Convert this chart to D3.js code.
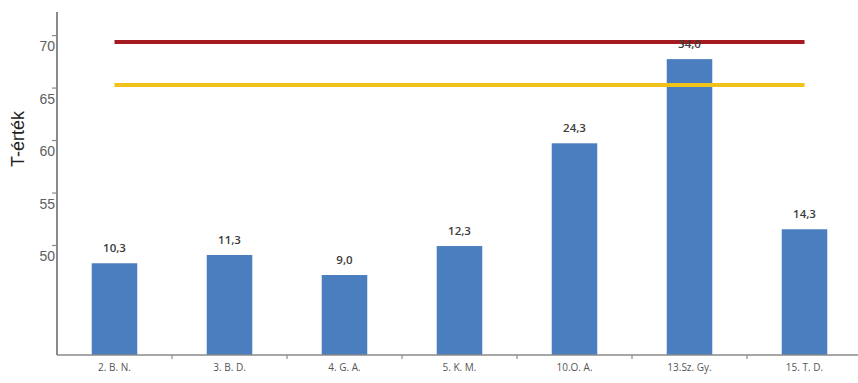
<!DOCTYPE html>
<html><head><meta charset="utf-8">
<script src="https://cdn.jsdelivr.net/npm/d3@7"></script>
<style>body{margin:0;background:#fff}svg{display:block}</style>
</head><body>
<svg id="c" width="858" height="383"></svg>
<script>
const categories = ["2. B. N.", "3. B. D.", "4. G. A.", "5. K. M.", "10.O. A.", "13.Sz. Gy.", "15. T. D."];
const tValues = [48.26, 49.05, 47.14, 49.9, 59.69, 67.71, 51.5];
const rawLabels = ["10,3", "11,3", "9,0", "12,3", "24,3", "34,0", "14,3"];
const yTicks = [50, 55, 60, 65, 70];
const redLine = 69.33;
const yellowLine = 65.24;

const svg = d3.select("#c");
const x0 = 57, x1 = 862, yBase = 355, yTop = 12;
const y = d3.scaleLinear().domain([39.52, 72.2]).range([yBase, yTop]);
const x = d3.scaleBand().domain(categories).range([x0, x1]).paddingInner(0.604).paddingOuter(0.302);

// bars
svg.append("g").selectAll("rect").data(tValues).join("rect")
  .attr("x", (d,i) => x(categories[i]))
  .attr("width", x.bandwidth())
  .attr("y", d => y(d))
  .attr("height", d => yBase - y(d))
  .attr("fill", "#4a7ebf");

// reference lines
const lx0 = x(categories[0]) + x.bandwidth()/2;
const lx1 = x(categories[categories.length-1]) + x.bandwidth()/2;
svg.append("line").attr("x1", lx0).attr("x2", lx1).attr("y1", y(yellowLine)).attr("y2", y(yellowLine))
  .attr("stroke", "#f0c21a").attr("stroke-width", 4);
svg.append("line").attr("x1", lx0).attr("x2", lx1).attr("y1", y(redLine)).attr("y2", y(redLine))
  .attr("stroke", "#a51a1f").attr("stroke-width", 4);

// value labels
svg.append("g").selectAll("text").data(tValues).join("text")
  .attr("x", (d,i) => x(categories[i]) + x.bandwidth()/2)
  .attr("y", d => y(d) - 11)
  .attr("text-anchor", "middle")
  .attr("font-family", "Open Sans, Arial, sans-serif")
  .attr("font-size", 11.5).attr("font-weight", 600)
  .attr("fill", "#3c3c3c")
  .text((d,i) => rawLabels[i]);

// y axis
const yAxis = d3.axisLeft(y).tickValues(yTicks).tickSize(5).tickFormat("");
const ga = svg.append("g").attr("transform", `translate(${x0},0)`).call(yAxis);
ga.select(".domain").attr("d", `M0,${yTop}V${yBase}`).attr("stroke", "#8a8a8a").attr("stroke-width", 2);
ga.selectAll(".tick line").attr("stroke", "#8a8a8a").attr("stroke-width", 1.2);
svg.append("g").selectAll("text").data(yTicks).join("text")
  .attr("x", x0 - 2).attr("y", d => y(d) + 16)
  .attr("text-anchor", "end")
  .attr("font-family", "Liberation Sans, Arial, sans-serif")
  .attr("font-size", 14).attr("fill", "#606060")
  .text(d => d);

// x axis
const xAxis = d3.axisBottom(x).tickSize(0).tickPadding(9);
const gx = svg.append("g").attr("transform", `translate(0,${yBase})`).call(xAxis);
gx.select(".domain").attr("d", `M${x0},0H${x1}`).attr("stroke", "#8a8a8a").attr("stroke-width", 1.5);
gx.selectAll(".tick text").attr("font-family", "Open Sans, Arial, sans-serif").attr("font-size", 10).attr("fill", "#555");
// boundary ticks
const bounds = categories.slice(1).map(c => x(c) - x.step()*x.paddingInner()/2);
svg.append("g").selectAll("line").data(bounds).join("line")
  .attr("x1", d => d).attr("x2", d => d).attr("y1", yBase).attr("y2", yBase + 4)
  .attr("stroke", "#8a8a8a").attr("stroke-width", 1.2);

// y title
svg.append("text").attr("transform", "translate(24,139) rotate(-90)")
  .attr("text-anchor", "middle")
  .attr("font-family", "Liberation Sans, Arial, sans-serif")
  .attr("font-size", 18).attr("fill", "#222")
  .text("T-érték");
</script>
</body></html>
